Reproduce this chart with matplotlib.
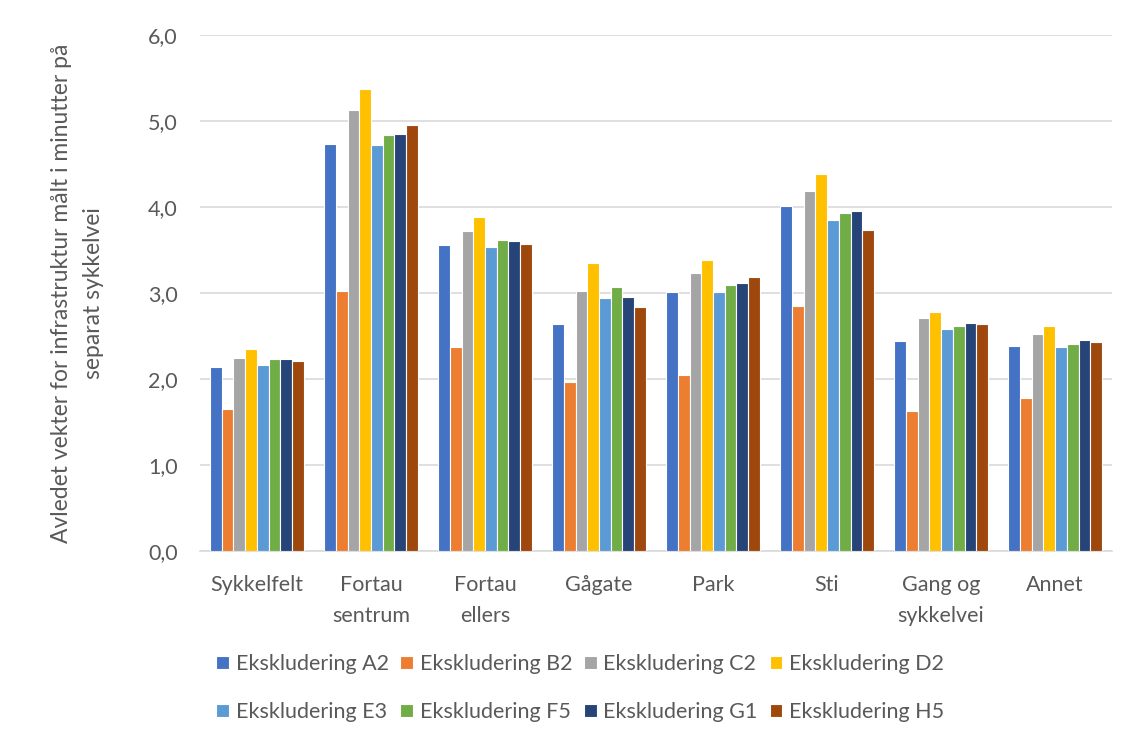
import numpy as np
import matplotlib.pyplot as plt
from matplotlib.ticker import FuncFormatter

plt.rcParams['font.family'] = ['Lato', 'DejaVu Sans']

# Infrastructure categories and derived weights per exclusion
categories = ['Sykkelfelt', 'Fortau\nsentrum', 'Fortau\nellers', 'Gågate',
              'Park', 'Sti', 'Gang og\nsykkelvei', 'Annet']
series_names = ['Ekskludering A2', 'Ekskludering B2', 'Ekskludering C2',
                'Ekskludering D2', 'Ekskludering E3', 'Ekskludering F5',
                'Ekskludering G1', 'Ekskludering H5']
A2 = [2.14, 4.73, 3.56, 2.64, 3.01, 4.01, 2.44, 2.39]
B2 = [1.65, 3.02, 2.37, 1.97, 2.05, 2.85, 1.63, 1.78]
C2 = [2.25, 5.13, 3.72, 3.03, 3.23, 4.19, 2.71, 2.52]
D2 = [2.35, 5.37, 3.88, 3.35, 3.38, 4.38, 2.78, 2.62]
E3 = [2.17, 4.72, 3.54, 2.94, 3.01, 3.85, 2.58, 2.37]
F5 = [2.24, 4.84, 3.62, 3.07, 3.09, 3.93, 2.62, 2.41]
G1 = [2.24, 4.85, 3.60, 2.96, 3.12, 3.95, 2.65, 2.45]
H5 = [2.21, 4.95, 3.57, 2.84, 3.19, 3.73, 2.64, 2.43]
series = [A2, B2, C2, D2, E3, F5, G1, H5]
colors = ['#4472c4', '#ed7d31', '#a5a5a5', '#ffc000',
          '#5b9bd5', '#70ad47', '#264478', '#9e480e']

text_color = '#595959'

fig = plt.figure(figsize=(11.33, 7.42), dpi=100)
ax = fig.add_axes([0.1765, 0.257, 0.805, 0.696])

x = np.arange(len(categories))
slot = 0.103
bars = []
for i, (vals, c, name) in enumerate(zip(series, colors, series_names)):
    offs = (i - 3.5) * slot
    b = ax.bar(x + offs, vals, width=slot, color=c, edgecolor='white',
               linewidth=0.8, label=name, zorder=3)
    bars.append(b)

ax.set_xlim(-0.5, len(categories) - 0.5)
ax.set_ylim(0, 6)
ax.set_yticks(np.arange(0, 6.01, 1.0))
ax.yaxis.set_major_formatter(FuncFormatter(lambda v, p: f'{v:.1f}'.replace('.', ',')))
ax.grid(axis='y', color='#d9d9d9', linewidth=1.2, zorder=0)
for s in ['top', 'right', 'left']:
    ax.spines[s].set_visible(False)
ax.spines['bottom'].set_color('#d9d9d9')
ax.spines['bottom'].set_linewidth(1.2)
ax.tick_params(axis='both', length=0, labelsize=15.5, colors=text_color)
ax.tick_params(axis='y', pad=16)
ax.tick_params(axis='x', pad=17)
ax.set_xticks(x)
ax.set_xticklabels(categories, linespacing=1.7)

ax.set_ylabel('Avledet vekter for infrastruktur målt i minutter på\nseparat sykkelvei',
              fontsize=16.5, color=text_color, labelpad=32, linespacing=1.65)

# legend fills column-wise, so interleave to get A2..D2 on the first row
order = [0, 4, 1, 5, 2, 6, 3, 7]
fig.legend([bars[k] for k in order], [series_names[k] for k in order],
           loc='center', bbox_to_anchor=(0.512, 0.0725), ncol=4, frameon=False,
           fontsize=15.5, handlelength=0.6, handleheight=0.6, handletextpad=0.3,
           columnspacing=0.55, labelspacing=1.3, labelcolor=text_color)

fig.savefig('out.png', dpi=100, facecolor='white')
